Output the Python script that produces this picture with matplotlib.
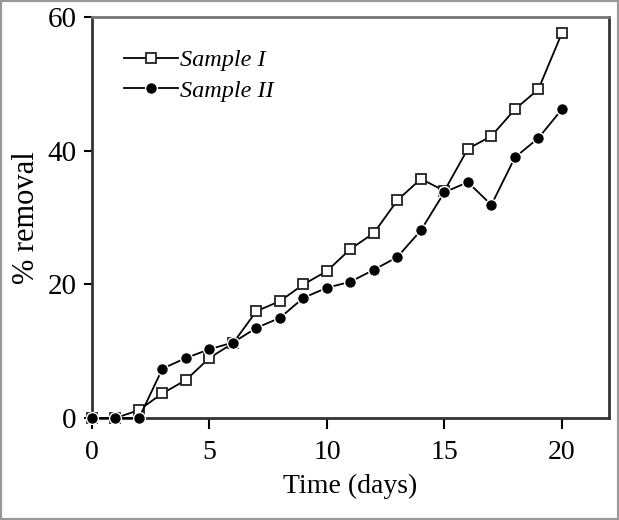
import numpy as np
import matplotlib.pyplot as plt
from matplotlib.patches import Rectangle

plt.rcParams['font.family'] = ['Liberation Serif', 'DejaVu Serif']

days = np.arange(0, 21)
sample_1 = [0, 0, 1.2, 3.7, 5.7, 9.0, 11.2, 16.0, 17.5, 20.0, 22.0,
            25.3, 27.7, 32.6, 35.8, 34.0, 40.3, 42.2, 46.2, 49.2, 57.6]
sample_2 = [0, 0, 0, 7.4, 9.0, 10.3, 11.3, 13.5, 15.0, 18.0, 19.5,
            20.4, 22.2, 24.1, 28.1, 33.8, 35.3, 31.9, 39.0, 41.9, 46.2]

fig = plt.figure(figsize=(6.19, 5.2), dpi=100)
ax = fig.add_axes([0.1486, 0.196, 0.835, 0.771])

ax.plot(days, sample_1, color='black', linewidth=1.3, marker='s', markersize=7,
        markerfacecolor='white', markeredgecolor='#222222', markeredgewidth=1.3,
        clip_on=False, zorder=3, label='Sample I')
ax.plot(days, sample_2, color='black', linewidth=1.3, marker='o', markersize=8.5,
        markerfacecolor='black', markeredgecolor='white', markeredgewidth=1.0,
        clip_on=False, zorder=4, label='Sample II')

ax.set_xlim(0, 22)
ax.set_ylim(0, 60)
ax.set_xticks([0, 5, 10, 15, 20])
ax.set_yticks([0, 20, 40, 60])
ax.tick_params(axis='x', direction='out', length=8, width=1.5, labelsize=20, pad=8)
ax.tick_params(axis='y', direction='out', length=6, width=1.5, labelsize=21, pad=5)
for s in ax.spines.values():
    s.set_linewidth(2)
    s.set_color('#333333')
ax.spines['top'].set_color('#777777')

ax.set_xlabel('Time (days)', fontsize=20, labelpad=6)
ax.set_ylabel('% removal', fontsize=22, labelpad=5)

leg = ax.legend(loc='upper left', bbox_to_anchor=(0.062, 0.92), frameon=False,
                prop={'style': 'italic', 'size': 17.5}, handlelength=2.2,
                handletextpad=0.1, labelspacing=0.35, borderaxespad=0,
                borderpad=0)

fig.patches.append(Rectangle((0, 0), 1, 1, transform=fig.transFigure,
                             fill=False, edgecolor='#999999', linewidth=3))

fig.savefig('out.png', dpi=100)
